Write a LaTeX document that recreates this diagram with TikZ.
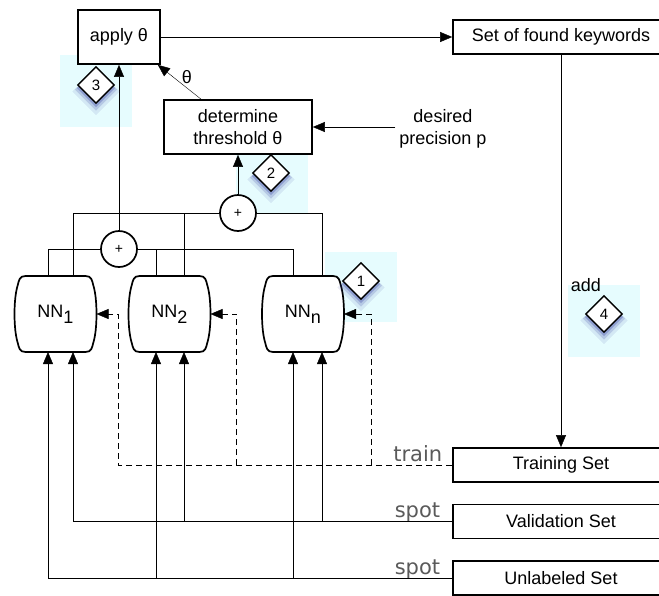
\documentclass[tikz,border=0pt]{standalone}
\usepackage{fontspec}
\setmainfont{Liberation Sans}
\newfontfamily\graysans{DejaVu Sans}
\usetikzlibrary{arrows.meta,shapes.geometric,calc,shadows,backgrounds}
\definecolor{markbg}{RGB}{230,252,254}
\definecolor{lblgray}{RGB}{90,90,90}
\definecolor{shadowblue}{RGB}{50,60,160}
\begin{document}
\begin{tikzpicture}[x=1pt,y=-1pt, line width=1.7pt,
  >={Triangle[length=12pt,width=10pt]},
  txt/.style={font=\fontsize{18}{22}\selectfont},
  box/.style={draw, fill=white, txt, inner sep=0pt, align=center},
  setbox/.style={box, minimum width=216pt, minimum height=34pt},
  nnnode/.style={txt, minimum width=82pt, minimum height=76pt, inner sep=0pt, outer sep=0pt},
  plus/.style={circle, draw, fill=white, minimum size=36pt, inner sep=0pt, font=\fontsize{14}{14}\selectfont},
  marker/.style={diamond, draw, fill=white, line width=1.4pt, minimum size=37pt, inner sep=0pt,
    font=\fontsize{15}{15}\selectfont,
    drop shadow={shadow xshift=0pt, shadow yshift=-5pt, shadow scale=1.3, fill=shadowblue, opacity=0.10},
    drop shadow={shadow xshift=0pt, shadow yshift=-4pt, shadow scale=1.15, fill=shadowblue, opacity=0.18},
    drop shadow={shadow xshift=0pt, shadow yshift=-3pt, shadow scale=1.04, fill=shadowblue, opacity=0.3}},
  markbox/.style={fill=markbg, draw=none},
  trainline/.style={dash pattern=on 6pt off 4pt},
  tag/.style={font=\graysans\fontsize{21}{21}\selectfont, text=lblgray, inner sep=0pt}
]
\useasboundingbox (0,0) rectangle (659,595);
\clip (0,0) rectangle (659,595);

% nodes
\node[box, minimum width=82pt, minimum height=54pt] (apply) at (119,37) {apply θ};
\node[box, minimum width=148pt, minimum height=54pt] (thr) at (238,127) {determine\\threshold θ};
\node[setbox] (found) at (561,37) {Set of found keywords};
\node[setbox] (train) at (561,465) {Training Set};
\node[setbox] (valid) at (561,521.5) {Validation Set};
\node[setbox] (unlab) at (561,578) {Unlabeled Set};
\node[nnnode] (nn1) at (55.5,314) {NN\raisebox{-6pt}{1}};
\node[nnnode] (nn2) at (169.5,314) {NN\raisebox{-6pt}{2}};
\node[nnnode] (nnn) at (303,314) {NN\raisebox{-6pt}{n}};
\node[plus] (plusA) at (119,249) {+};
\node[plus] (plusB) at (238,213) {+};
\node[txt] (thlab) at (187,77) {θ};
\node[txt, align=center] (desired) at (443,129) {desired\\precision p};
\node[txt, anchor=base west, inner sep=0pt] (addlab) at (570,291) {add};
\node[tag, anchor=base east] (trainlab) at (443,461) {train};
\node[tag, anchor=base east] (spot1) at (441,517) {spot};
\node[tag, anchor=base east] (spot2) at (441,574) {spot};

\begin{pgfonlayer}{background}
  \fill[markbox] (60,55) rectangle (132,127);
  \fill[markbox] (236,141) rectangle (308,213);
  \fill[markbox] (325,252) rectangle (397,322);
  \fill[markbox] (568,285) rectangle (640,357);
  \foreach \nn in {nn1,nn2,nnn}{
    \draw[line width=1.7pt, draw=black, fill=white]
      ($(\nn.north west)+(11pt,0pt)$) -- ($(\nn.north east)+(-11pt,0pt)$)
      .. controls ($(\nn.north east)+(-5pt,0pt)$) and ($(\nn.north east)+(-4.5pt,-4pt)$) .. ($(\nn.north east)+(-3pt,-10pt)$)
      .. controls ($(\nn.north east)+(-1.2pt,-16pt)$) and ($(\nn.east)+(0pt,12pt)$) .. (\nn.east)
      .. controls ($(\nn.east)+(0pt,-12pt)$) and ($(\nn.south east)+(-1.2pt,16pt)$) .. ($(\nn.south east)+(-3pt,10pt)$)
      .. controls ($(\nn.south east)+(-4.5pt,4pt)$) and ($(\nn.south east)+(-5pt,0pt)$) .. ($(\nn.south east)+(-11pt,0pt)$)
      -- ($(\nn.south west)+(11pt,0pt)$)
      .. controls ($(\nn.south west)+(5pt,0pt)$) and ($(\nn.south west)+(4.5pt,4pt)$) .. ($(\nn.south west)+(3pt,10pt)$)
      .. controls ($(\nn.south west)+(1.2pt,16pt)$) and ($(\nn.west)+(0pt,-12pt)$) .. (\nn.west)
      .. controls ($(\nn.west)+(0pt,12pt)$) and ($(\nn.north west)+(1.2pt,-16pt)$) .. ($(\nn.north west)+(3pt,-10pt)$)
      .. controls ($(\nn.north west)+(4.5pt,-4pt)$) and ($(\nn.north west)+(5pt,0pt)$) .. cycle;
  }
\end{pgfonlayer}

% top flow
\draw[->] (apply.east) -- (found.west);
\draw[->] (found.south) -- (train.north);
\draw[->] (plusA.north) -- (apply.south);
\draw[->] (plusB.north) -- (thr.south);
\draw[->] ([xshift=-37pt]thr.north) -- ([xshift=-3pt]apply.south east);
\draw[->] (thr.east -| desired.west) -- (thr.east);

% NN outputs to sums
\draw ([xshift=-7.5pt]nn1.north) |- (plusA.west);
\draw ([xshift=-10pt]nnn.north) |- (plusA.east);
\draw ([xshift=-13.5pt]nn2.north) -- ([xshift=-13.5pt]nn2.north |- plusA.east);
\draw ([xshift=17.5pt]nn1.north) |- (plusB.west);
\draw ([xshift=19pt]nnn.north) |- (plusB.east);
\draw ([xshift=14.5pt]nn2.north) -- ([xshift=14.5pt]nn2.north |- plusB.west);

% inputs from sets
\draw[->] (unlab.west) -| ([xshift=-7.5pt]nn1.south);
\draw[->] ([xshift=-13.5pt]nn2.south |- unlab.west) -- ([xshift=-13.5pt]nn2.south);
\draw[->] ([xshift=-10pt]nnn.south |- unlab.west) -- ([xshift=-10pt]nnn.south);
\draw[->] (valid.west) -| ([xshift=17.5pt]nn1.south);
\draw[->] ([xshift=14.5pt]nn2.south |- valid.west) -- ([xshift=14.5pt]nn2.south);
\draw[->] ([xshift=19pt]nnn.south |- valid.west) -- ([xshift=19pt]nnn.south);

% training (dashed)
\draw[trainline, ->] (train.west) -| ([xshift=22pt]nn1.east) -- (nn1.east);
\draw[trainline, ->] ([xshift=26pt]nn2.east |- train.west) -- ([xshift=26pt]nn2.east) -- (nn2.east);
\draw[trainline, ->] ([xshift=27pt]nnn.east |- train.west) -- ([xshift=27pt]nnn.east) -- (nnn.east);

% step markers
\node[marker] (m3) at (96,85) {3};
\node[marker] (m2) at (271,173) {2};
\node[marker] (m1) at (361,281) {1};
\node[marker] (m4) at (604,314) {4};
\end{tikzpicture}
\end{document}
